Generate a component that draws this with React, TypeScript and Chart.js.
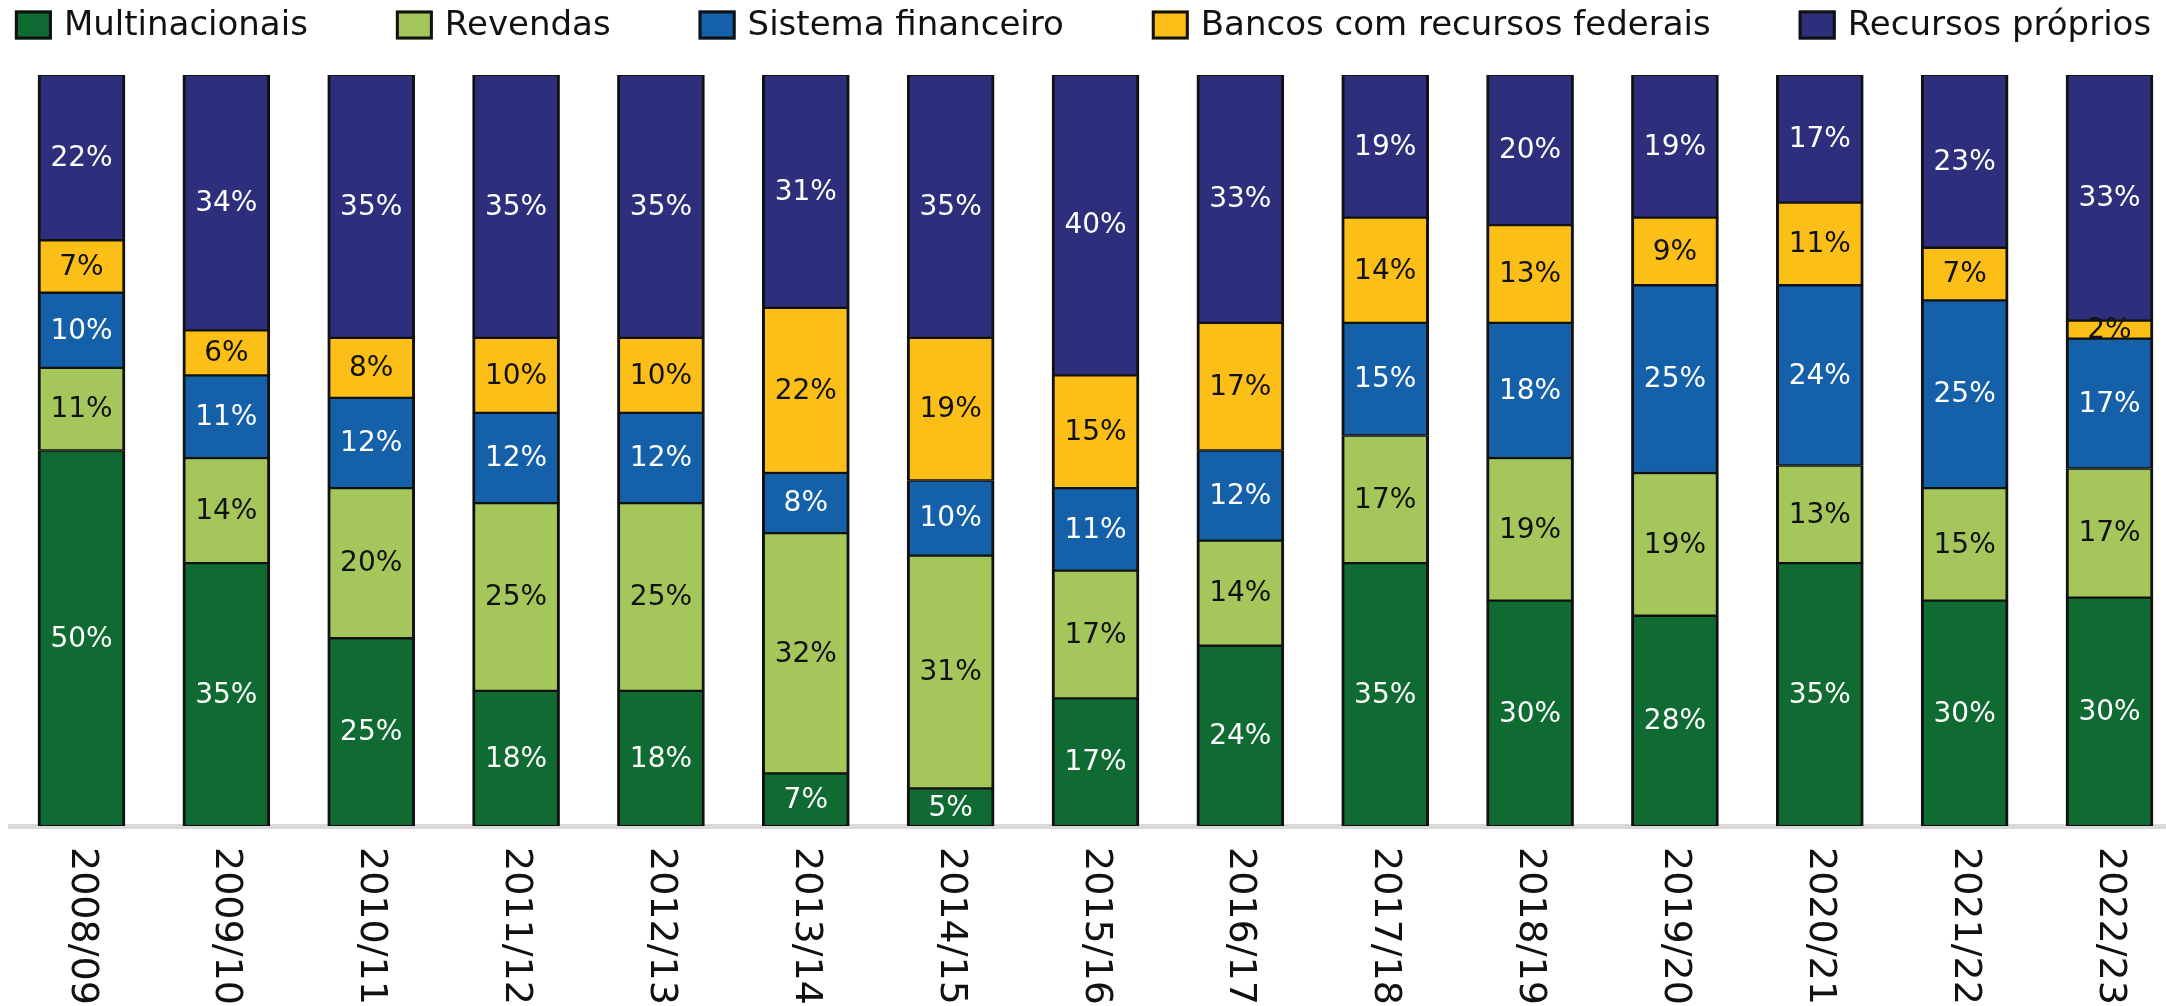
import { useEffect, useRef } from "react";
import { Chart, registerables } from "chart.js";

Chart.register(...registerables);

// ---- data ----
const categories = [
  "2008/09", "2009/10", "2010/11", "2011/12", "2012/13", "2013/14", "2014/15", "2015/16",
  "2016/17", "2017/18", "2018/19", "2019/20", "2020/21", "2021/22", "2022/23",
];
const multinacionais = [50, 35, 25, 18, 18, 7, 5, 17, 24, 35, 30, 28, 35, 30, 30.4];
const revendas = [11, 14, 20, 25, 25, 32, 31, 17, 14, 17, 19, 19, 13, 15, 17.2];
const sistemaFinanceiro = [10, 11, 12, 12, 12, 8, 10, 11, 12, 15, 18, 25, 24, 25, 17.3];
const bancosFederais = [7, 6, 8, 10, 10, 22, 19, 15, 17, 14, 13, 9, 11, 7, 2.4];
const recursosProprios = [22, 34, 35, 35, 35, 31, 35, 40, 33, 19, 20, 19, 17, 23, 32.7];

const seriesNames = [
  "Multinacionais",
  "Revendas",
  "Sistema financeiro",
  "Bancos com recursos federais",
  "Recursos próprios",
];
const seriesValues = [multinacionais, revendas, sistemaFinanceiro, bancosFederais, recursosProprios];
const seriesColors = ["#0F6B32", "#A4C65B", "#1561A9", "#FCBF17", "#2D2F7D"];
const labelColors = ["#ffffff", "#111111", "#ffffff", "#111111", "#ffffff"];

const INK = "#111111";

const customLegend = {
  id: "customLegend",
  afterDraw(chart: any) {
    const ctx = chart.ctx;
    ctx.save();
    ctx.font = '34px "DejaVu Sans"';
    const items = chart.data.datasets.map((ds: any) => ({
      text: ds.label,
      color: ds.backgroundColor,
      w: ctx.measureText(ds.label).width,
    }));
    const boxW = 37, boxH = 29, boxGap = 12, itemGap = 88;
    const total =
      items.reduce((s: number, it: any) => s + boxW + boxGap + it.w, 0) + itemGap * (items.length - 1);
    let x = (chart.width - total) / 2;
    const cy = 25;
    ctx.textAlign = "left";
    ctx.textBaseline = "middle";
    for (const it of items) {
      ctx.fillStyle = it.color;
      ctx.fillRect(x, cy - boxH / 2, boxW, boxH);
      ctx.lineWidth = 3;
      ctx.strokeStyle = INK;
      ctx.strokeRect(x + 1.5, cy - boxH / 2 + 1.5, boxW - 3, boxH - 3);
      ctx.fillStyle = INK;
      ctx.fillText(it.text, x + boxW + boxGap, cy + 1);
      x += boxW + boxGap + it.w + itemGap;
    }
    ctx.restore();
  },
};

const rotatedXLabels = {
  id: "rotatedXLabels",
  afterDraw(chart: any) {
    const ctx = chart.ctx;
    const xs = chart.scales.x;
    ctx.save();
    ctx.font = '38px "DejaVu Sans"';
    ctx.fillStyle = INK;
    ctx.textAlign = "left";
    ctx.textBaseline = "middle";
    categories.forEach((lab, i) => {
      const px = xs.getPixelForValue(i);
      ctx.save();
      ctx.translate(px, chart.chartArea.bottom + 21);
      ctx.rotate(Math.PI / 2);
      ctx.fillText(lab, 0, 0);
      ctx.restore();
    });
    ctx.restore();
  },
};

const valueLabels = {
  id: "valueLabels",
  afterDatasetsDraw(chart: any) {
    const ctx = chart.ctx;
    ctx.save();
    ctx.font = '28px "DejaVu Sans"';
    ctx.textAlign = "center";
    ctx.textBaseline = "middle";
    chart.data.datasets.forEach((ds: any, di: number) => {
      const meta = chart.getDatasetMeta(di);
      ctx.fillStyle = labelColors[di];
      meta.data.forEach((el: any, i: number) => {
        const v = ds.data[i].y;
        const { x, y, base } = el.getProps(["x", "y", "base"], true);
        ctx.fillText(Math.round(v) + "%", x, (y + base) / 2 + 1);
      });
    });
    ctx.restore();
  },
};

export default function App() {
  const ref = useRef<HTMLCanvasElement | null>(null);

  useEffect(() => {
    if (!ref.current) return;
    const chart = new Chart(ref.current, {
      type: "bar",
      data: {
        datasets: seriesNames.map((name, si) => ({
          label: name,
          data: seriesValues[si].map((v, i) => ({ x: i, y: v })),
          backgroundColor: seriesColors[si],
          borderColor: INK,
          borderWidth: { top: 1.5, bottom: 1.5, left: 3, right: 3 },
          borderSkipped: false,
          barThickness: 87,
        })),
      },
      options: {
        animation: false,
        responsive: true,
        maintainAspectRatio: false,
        layout: { padding: { top: 75, left: 10, right: 0, bottom: 0 } },
        plugins: {
          legend: { display: false },
          tooltip: { enabled: false },
        },
        scales: {
          x: {
            type: "linear",
            offset: false,
            min: -0.4936,
            max: 14.39,
            stacked: true,
            grid: { display: false, offset: false },
            ticks: { display: false },
            border: { display: true, color: "#d9d9d9", width: 5 },
            afterFit: (s: any) => {
              s.height = 180;
            },
          },
          y: {
            display: false,
            stacked: true,
            min: 0,
            max: 100,
          },
        },
      } as any,
      plugins: [customLegend, rotatedXLabels, valueLabels],
    } as any);
    return () => chart.destroy();
  }, []);

  return (
    <div
      style={{
        position: "fixed",
        left: 0,
        top: 0,
        width: 2166,
        height: 1006,
        background: "#ffffff",
      }}
    >
      <canvas ref={ref} />
    </div>
  );
}
